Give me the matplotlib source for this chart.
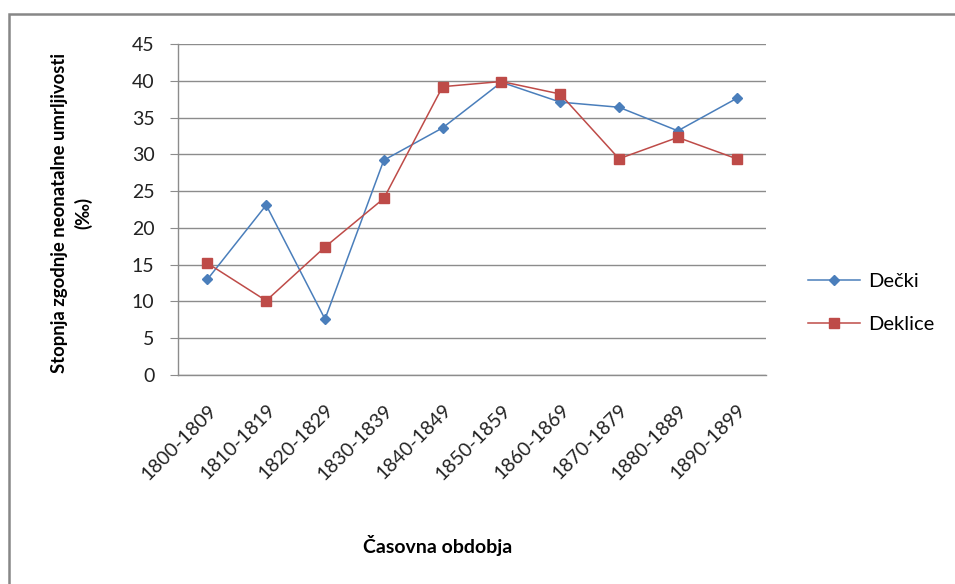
import matplotlib.pyplot as plt
from matplotlib.patches import Rectangle

plt.rcParams['font.family'] = ['Lato', 'DejaVu Sans']

periods = ['1800-1809', '1810-1819', '1820-1829', '1830-1839', '1840-1849',
           '1850-1859', '1860-1869', '1870-1879', '1880-1889', '1890-1899']
decki = [13.0, 23.1, 7.6, 29.2, 33.6, 39.8, 37.1, 36.4, 33.2, 37.6]
deklice = [15.2, 10.1, 17.4, 24.0, 39.2, 39.9, 38.2, 29.4, 32.3, 29.4]
yticks = [0, 5, 10, 15, 20, 25, 30, 35, 40, 45]

blue = '#4a7ebb'
red = '#be4b48'
grey = '#8c8c8c'

fig = plt.figure(figsize=(9.55, 5.84), dpi=100)
ax = fig.add_axes([178/955, 1 - 375/584, (766 - 178)/955, (375 - 44)/584])

# outer chart frame (only left and top edges visible)
fig.patches.append(Rectangle((9/955, -0.1), 1.2, (584 - 14)/584 + 0.1,
                             transform=fig.transFigure, fill=False,
                             edgecolor='#878787', linewidth=1.8))

x = list(range(len(periods)))
ax.plot(x, decki, color=blue, linewidth=1.1, marker='D', markersize=5,
        label='Dečki', zorder=3)
ax.plot(x, deklice, color=red, linewidth=1.1, marker='s', markersize=7,
        label='Deklice', zorder=3)

ax.set_xlim(-0.5, 9.5)
ax.set_ylim(0, 45)
ax.set_yticks(yticks)
ax.yaxis.grid(True, color=grey, linewidth=1)
ax.set_axisbelow(True)

for s in ['top', 'right']:
    ax.spines[s].set_visible(False)
for s in ['left', 'bottom']:
    ax.spines[s].set_color(grey)
    ax.spines[s].set_linewidth(1)

ax.tick_params(axis='y', direction='out', length=6, color=grey, pad=11,
               labelsize=14, labelcolor='#222222')
ax.tick_params(axis='x', length=0, pad=19, labelsize=14, labelcolor='#222222')
ax.set_xticks(x)
ax.set_xticklabels(periods, rotation=45, ha='right', rotation_mode='anchor')

fig.text(60/955, 1 - 213/584, 'Stopnja zgodnje neonatalne umrljivosti',
         rotation=90, ha='center', va='center', fontsize=13.3, fontweight='bold')
fig.text(83/955, 1 - 213/584, '(‰)',
         rotation=90, ha='center', va='center', fontsize=13.3, fontweight='bold')
fig.text(438/955, 1 - 545/584, 'Časovna obdobja',
         ha='center', va='center', fontsize=14, fontweight='bold')

leg = ax.legend(loc='center left', bbox_to_anchor=(808/955, 1 - 303/584),
                bbox_transform=fig.transFigure, frameon=False,
                borderaxespad=0, borderpad=0,
                fontsize=14.5, handlelength=2.6, handletextpad=0.4,
                labelspacing=1.3)

fig.savefig('out.png', dpi=100)
